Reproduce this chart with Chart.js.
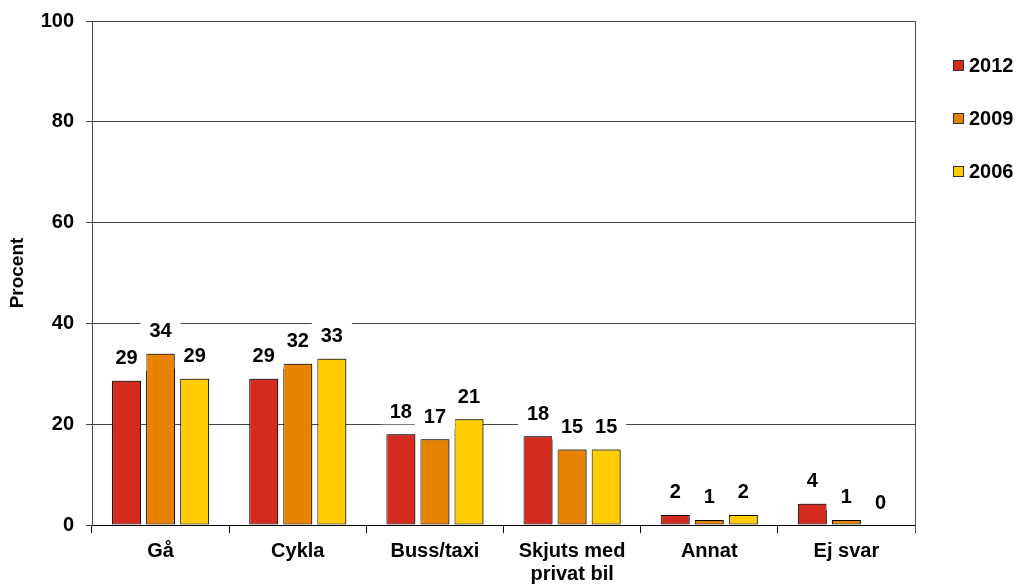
<!DOCTYPE html>
<html>
<head>
<meta charset="utf-8">
<script src="https://cdn.jsdelivr.net/npm/chart.js@4"></script>
<style>
  html, body { margin: 0; padding: 0; background: #fff; }
  #wrap { width: 1019px; height: 585px; }
</style>
</head>
<body>
<div id="wrap"><canvas id="chart"></canvas></div>
<script>
const categories = ["Gå", "Cykla", "Buss/taxi", ["Skjuts med", "privat bil"], "Annat", "Ej svar"];
const years = ["2012", "2009", "2006"];
const values2012 = [28.6, 29, 18, 17.6, 2, 4.2];
const values2009 = [34, 32, 17, 15, 1, 1];
const values2006 = [29, 33, 21, 15, 2, 0];
const yMin = 0;
const yMax = 100;
const yStep = 20;

const colors = ["#d52b1e", "#e88300", "#ffcc00"];
const FONT = "'Liberation Sans', Arial, sans-serif";

// bar shadow, like the excel original
const shadowPlugin = {
  id: "shadow",
  beforeDatasetsDraw(chart) {
    const ctx = chart.ctx;
    ctx.save();
    ctx.shadowColor = "rgba(0,0,0,0.35)";
    ctx.shadowOffsetX = 2;
    ctx.shadowOffsetY = -1;
    ctx.shadowBlur = 0;
  },
  afterDatasetsDraw(chart) {
    chart.ctx.restore();
  },
};

// right border of the plot area
const borderPlugin = {
  id: "plotBorder",
  beforeDatasetsDraw(chart) {
    const { ctx, chartArea } = chart;
    ctx.save();
    ctx.strokeStyle = "#555";
    ctx.lineWidth = 1;
    ctx.beginPath();
    ctx.moveTo(Math.round(chartArea.right) + 0.5, chartArea.top);
    ctx.lineTo(Math.round(chartArea.right) + 0.5, chartArea.bottom + 7);
    ctx.stroke();
    ctx.restore();
  },
};

// value labels with white boxes
const labelPlugin = {
  id: "valueLabels",
  afterDatasetsDraw(chart) {
    const ctx = chart.ctx;
    const items = [];
    chart.data.datasets.forEach((ds, i) => {
      chart.getDatasetMeta(i).data.forEach((bar, j) => {
        items.push({ x: bar.x, y: bar.y - 23, text: String(Math.round(ds.data[j])) });
      });
    });
    ctx.save();
    ctx.fillStyle = "#fff";
    items.forEach((it) => ctx.fillRect(it.x - 20, it.y - 13, 40, 26));
    ctx.fillStyle = "#000";
    ctx.font = "bold 20px " + FONT;
    ctx.textAlign = "center";
    ctx.textBaseline = "middle";
    items.forEach((it) => ctx.fillText(it.text, it.x, it.y + 1));
    ctx.restore();
  },
};

// legend on the right
const legendPlugin = {
  id: "sideLegend",
  afterDraw(chart) {
    const ctx = chart.ctx;
    ctx.save();
    ctx.font = "bold 20px " + FONT;
    ctx.textBaseline = "middle";
    chart.data.datasets.forEach((ds, i) => {
      const y = 65 + i * 53;
      ctx.fillStyle = ds.backgroundColor;
      ctx.fillRect(953, y - 5, 11, 11);
      ctx.strokeStyle = "#333";
      ctx.lineWidth = 1;
      ctx.strokeRect(953.5, y - 4.5, 10, 10);
      ctx.fillStyle = "#000";
      ctx.fillText(ds.label, 969, y + 1);
    });
    ctx.restore();
  },
};

const datasets = [values2012, values2009, values2006].map((vals, i) => ({
  label: years[i],
  data: vals,
  backgroundColor: colors[i],
  borderColor: "#000",
  borderWidth: 1,
  borderSkipped: false,
  categoryPercentage: 0.745,
  barPercentage: 0.85,
}));

new Chart(document.getElementById("chart"), {
  type: "bar",
  data: { labels: categories, datasets: datasets },
  plugins: [borderPlugin, shadowPlugin, labelPlugin, legendPlugin],
  options: {
    responsive: true,
    maintainAspectRatio: false,
    animation: false,
    devicePixelRatio: 1,
    layout: { padding: { top: 21, right: 104, left: 0, bottom: 0 } },
    plugins: {
      legend: { display: false },
      tooltip: { enabled: false },
    },
    scales: {
      x: {
        afterFit(s) { s.height = 60; },
        grid: { drawOnChartArea: false, tickLength: 8, color: "#000", offset: true },
        border: { color: "#000" },
        ticks: {
          color: "#000",
          font: { family: FONT, size: 20, weight: "bold", lineHeight: 1.15 },
          padding: 7,
          maxRotation: 0,
          autoSkip: false,
        },
      },
      y: {
        min: yMin,
        max: yMax,
        afterFit(s) { s.width = 92; s.paddingTop = 0; s.paddingBottom = 0; },
        grid: { color: "#444", tickLength: 6 },
        border: { color: "#444" },
        ticks: {
          stepSize: yStep,
          color: "#000",
          font: { family: FONT, size: 20, weight: "bold" },
          padding: 12,
        },
        title: {
          display: true,
          text: "Procent",
          color: "#000",
          font: { family: FONT, size: 19, weight: "bold" },
          padding: { top: 6, bottom: 0 },
        },
      },
    },
  },
});
</script>
</body>
</html>
